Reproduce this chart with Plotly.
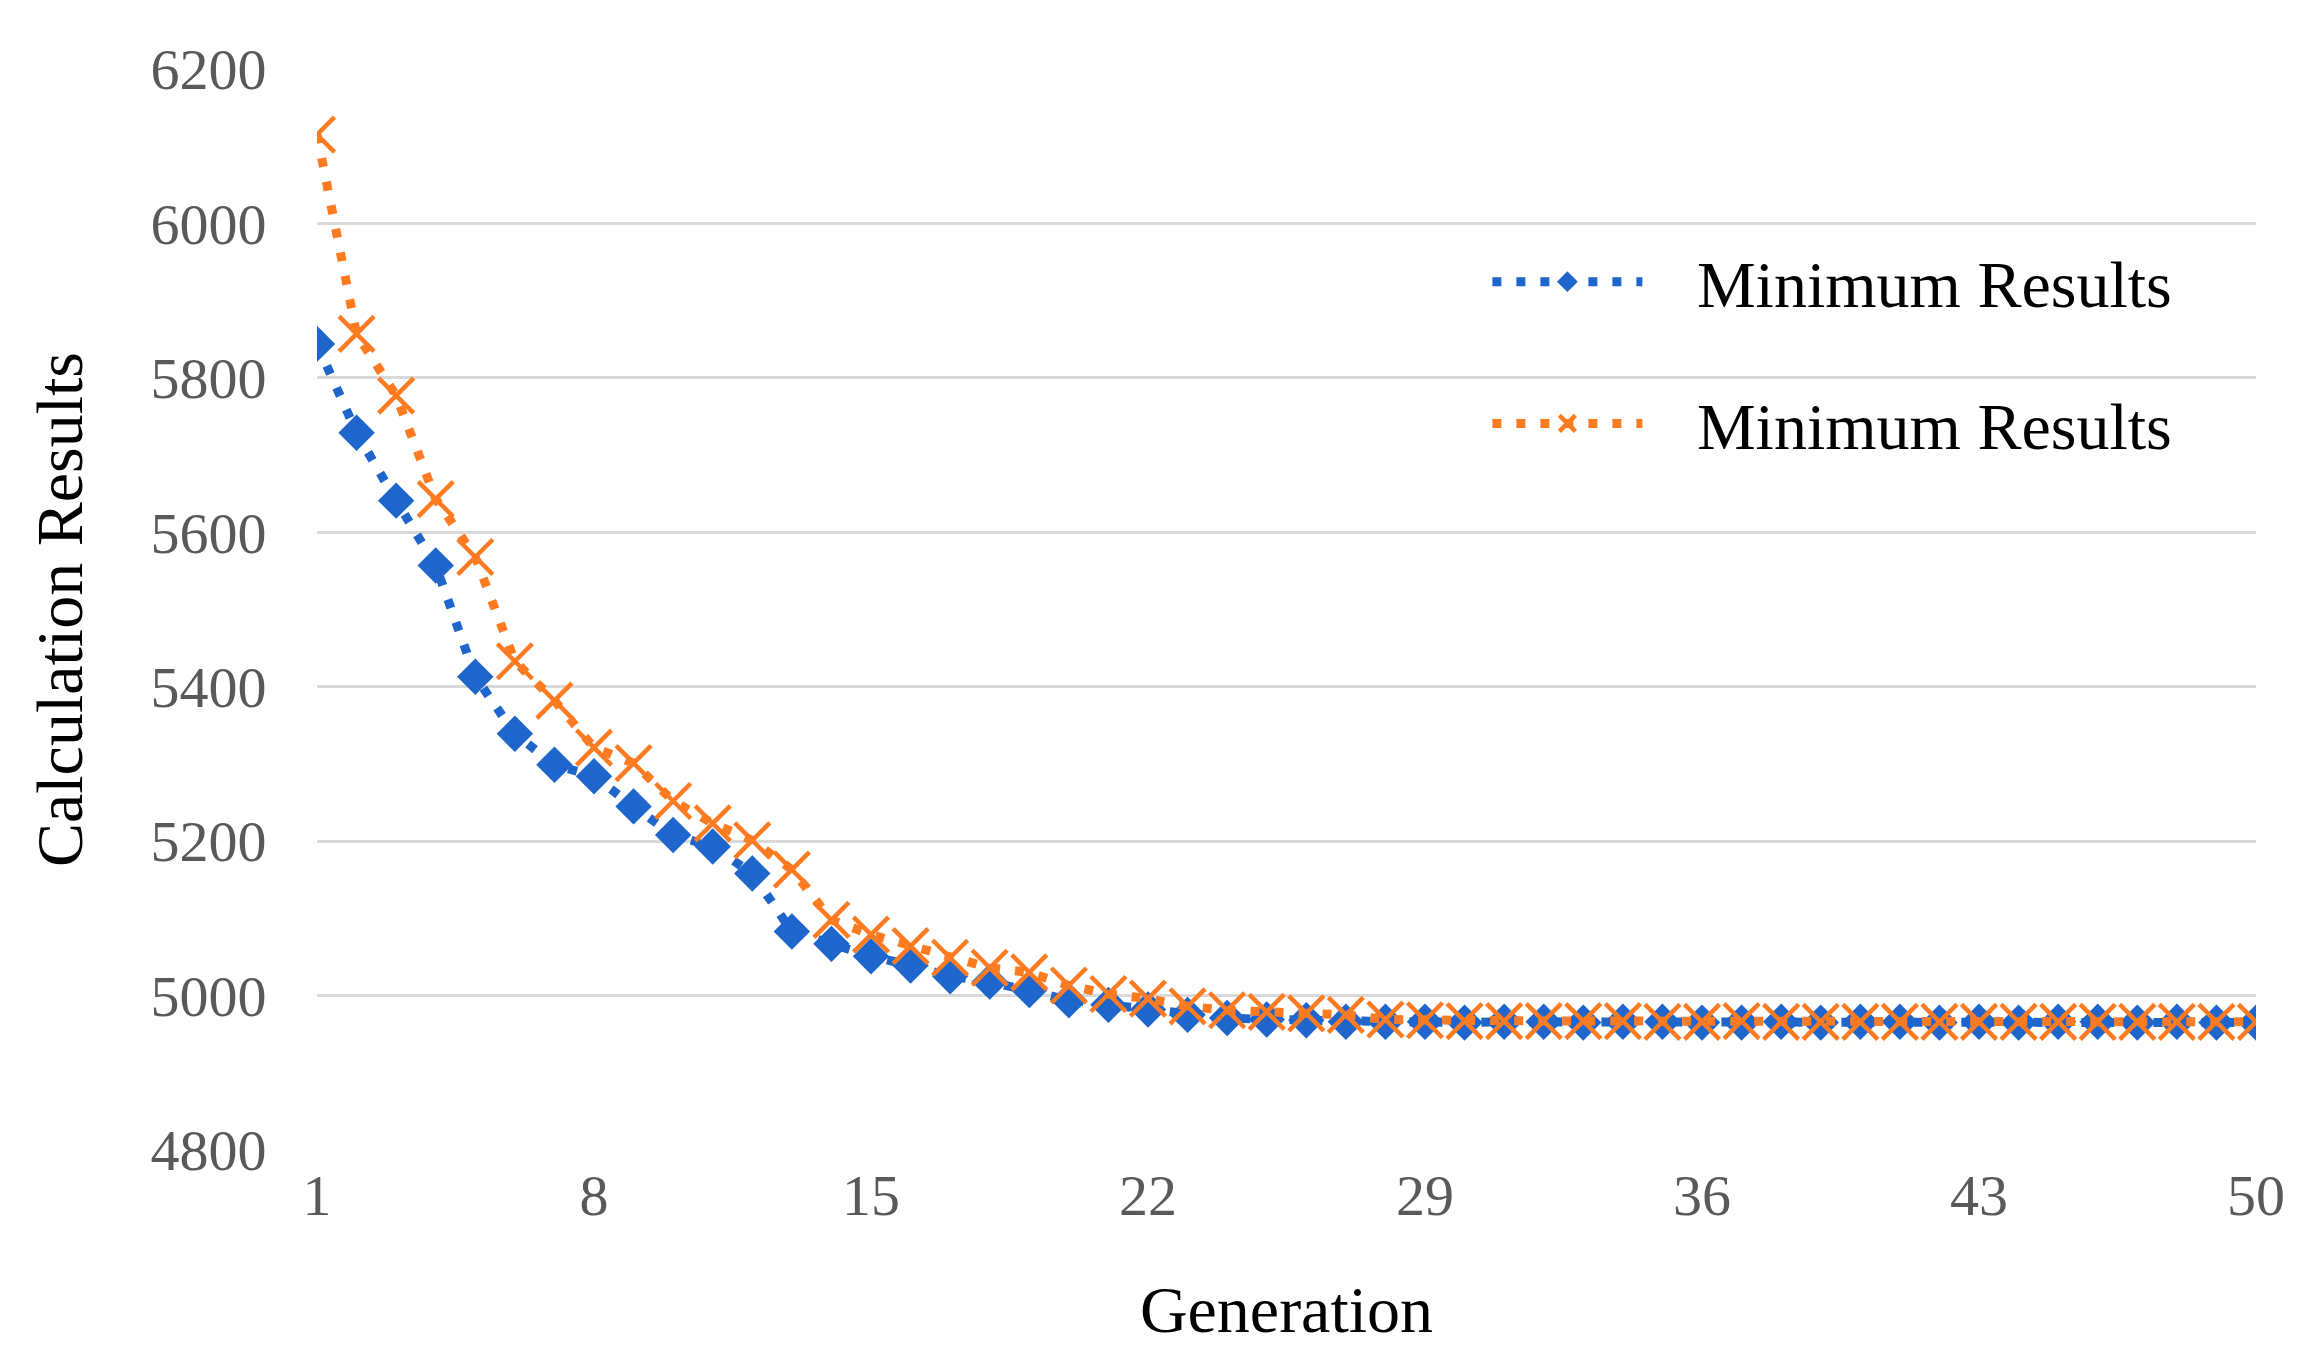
import plotly.graph_objects as go

generations = list(range(1, 51))

series_names = ["Minimum Results", "Minimum Results"]

blue_values = [5844, 5729, 5641, 5557, 5413, 5339, 5299, 5284, 5245, 5208,
               5193, 5158, 5083, 5067, 5051, 5039, 5025, 5018, 5007, 4994,
               4988, 4982, 4975, 4971, 4969, 4968, 4966, 4966, 4966, 4965,
               4966, 4966, 4965, 4966, 4966, 4965, 4965, 4966, 4965, 4966,
               4966, 4965, 4966, 4965, 4966, 4966, 4965, 4966, 4965, 4965]

orange_values = [6115, 5857, 5777, 5643, 5568, 5433, 5382, 5321, 5301, 5252,
                 5223, 5201, 5163, 5098, 5079, 5064, 5049, 5036, 5030, 5013,
                 5002, 4996, 4986, 4981, 4979, 4977, 4975, 4969, 4968, 4967,
                 4967, 4967, 4967, 4967, 4966, 4966, 4967, 4966, 4966, 4966,
                 4966, 4966, 4966, 4966, 4966, 4966, 4966, 4966, 4966, 4966]

x_tick_values = [1, 8, 15, 22, 29, 36, 43, 50]
y_tick_values = [4800, 5000, 5200, 5400, 5600, 5800, 6000, 6200]

BLUE = "#1f66cc"
ORANGE = "#ff7b22"
SERIF = "Liberation Serif"
GAP = "\u00a0\u00a0\u00a0"  # spacing between legend symbol and label

fig = go.Figure()

fig.add_trace(go.Scatter(
    x=generations, y=blue_values, name=GAP + series_names[0], legendgroup="a",
    mode="lines+markers",
    line=dict(color=BLUE, width=9, dash="9px,15px"),
    marker=dict(symbol="diamond", size=28, color=BLUE, line=dict(width=0)),
))

fig.add_trace(go.Scatter(
    x=generations, y=orange_values, name=GAP + series_names[1], legendgroup="b",
    mode="lines+markers",
    line=dict(color=ORANGE, width=9, dash="9px,15px"),
    marker=dict(symbol="x-thin", size=35, color=ORANGE,
                line=dict(width=4.5, color=ORANGE)),
))

fig.update_layout(
    width=2300, height=1362,
    margin=dict(l=309, r=52, t=61, b=220),
    paper_bgcolor="white", plot_bgcolor="white",
    font=dict(family=SERIF, color="#000000"),
    showlegend=True,
    legend=dict(
        x=0.6036, y=0.849, xanchor="left", yanchor="top",
        font=dict(family=SERIF, size=66, color="#000000"),
        itemwidth=150, tracegroupgap=53,
        bgcolor="rgba(0,0,0,0)",
    ),
)

fig.update_xaxes(
    range=[1, 50], tickmode="array", tickvals=x_tick_values,
    ticktext=[str(v) for v in x_tick_values],
    showgrid=False, zeroline=False, showline=False,
    ticks="", ticklabelstandoff=6,
    tickfont=dict(family=SERIF, size=58, color="#595959"),
    title=dict(text="Generation", font=dict(family=SERIF, size=66, color="#000000"),
               standoff=58),
)

fig.update_yaxes(
    range=[4800, 6200], tickmode="array", tickvals=y_tick_values,
    ticktext=[str(v) for v in y_tick_values],
    showgrid=True, gridcolor="#d9d9d9", gridwidth=3,
    zeroline=False, showline=False,
    ticks="outside", ticklen=38, tickcolor="rgba(0,0,0,0)",
    tickfont=dict(family=SERIF, size=58, color="#595959"),
    title=dict(text="Calculation Results", font=dict(family=SERIF, size=66, color="#000000"),
               standoff=46),
)

fig.write_html("out.html")
